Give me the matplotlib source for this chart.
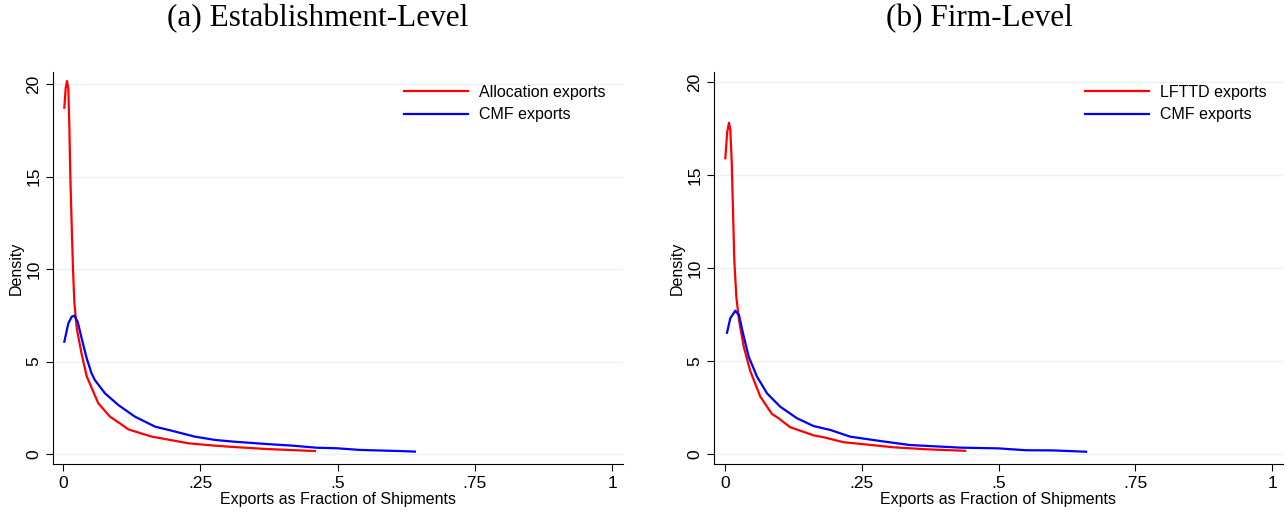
import matplotlib.pyplot as plt

# panel (a) establishment-level
est_alloc_x = [0.0024, 0.0050, 0.0073, 0.0097, 0.0115, 0.0133, 0.0158, 0.0182, 0.0206, 0.025,
               0.034, 0.0432, 0.0643, 0.0856, 0.104, 0.119, 0.1616, 0.186, 0.228, 0.277,
               0.31, 0.371, 0.459]
est_alloc_y = [18.72, 19.8, 20.16, 19.77, 17.8, 15.1, 12.4, 10.04, 8.23, 6.8,
               5.4, 4.2, 2.74, 2.02, 1.65, 1.33, 0.94, 0.81, 0.58, 0.45,
               0.38, 0.27, 0.16]
est_cmf_x = [0.0024, 0.0097, 0.0158, 0.0206, 0.0267, 0.034, 0.0432, 0.052, 0.058, 0.0765,
             0.1007, 0.131, 0.1676, 0.198, 0.24, 0.277, 0.31, 0.371, 0.419, 0.462,
             0.499, 0.541, 0.614, 0.641]
est_cmf_y = [6.07, 7.06, 7.42, 7.48, 7.15, 6.25, 5.17, 4.36, 4.0, 3.28,
             2.65, 2.02, 1.48, 1.26, 0.94, 0.76, 0.67, 0.54, 0.45, 0.34,
             0.31, 0.22, 0.16, 0.13]

# panel (b) firm-level
firm_lfttd_x = [0.0006, 0.0040, 0.0073, 0.0097, 0.0122, 0.0146, 0.017, 0.0207, 0.0256, 0.0342,
                0.0463, 0.0646, 0.0859, 0.098, 0.119, 0.162, 0.18, 0.217, 0.278, 0.307,
                0.369, 0.439]
firm_lfttd_y = [15.9, 17.3, 17.81, 17.42, 15.8, 13.12, 10.43, 8.46, 7.2, 5.77,
                4.45, 3.08, 2.15, 1.92, 1.44, 1.0, 0.9, 0.63, 0.45, 0.36,
                0.25, 0.17]
firm_cmf_x = [0.0037, 0.0097, 0.0188, 0.0256, 0.0329, 0.0433, 0.0585, 0.0768, 0.101, 0.1316,
              0.162, 0.1925, 0.229, 0.278, 0.338, 0.43, 0.5, 0.55, 0.6, 0.66]
firm_cmf_y = [6.52, 7.3, 7.7, 7.47, 6.49, 5.23, 4.16, 3.26, 2.54, 1.92,
              1.5, 1.29, 0.93, 0.72, 0.48, 0.34, 0.3, 0.2, 0.19, 0.12]

xticks = [0, 0.25, 0.5, 0.75, 1]
xtick_labels = ['0', '.25', '.5', '.75', '1']
yticks = [0, 5, 10, 15, 20]

plt.rcParams['font.family'] = ['Liberation Sans', 'DejaVu Sans']

fig = plt.figure(figsize=(12.88, 5.12), dpi=100)

panels = [
    dict(rect=[53/1288, 48/512, 570/1288, 392/512], xlim=(-0.0182, 1.02), ylim=(-0.54, 20.65),
         red=(est_alloc_x, est_alloc_y, 'Allocation exports'), blue=(est_cmf_x, est_cmf_y),
         leg_x=0.616, title='(a) Establishment-Level', title_x=318/1288),
    dict(rect=[714/1288, 48/512, 569/1288, 392/512], xlim=(-0.0201, 1.02), ylim=(-0.54, 20.54),
         red=(firm_lfttd_x, firm_lfttd_y, 'LFTTD exports'), blue=(firm_cmf_x, firm_cmf_y),
         leg_x=0.652, title='(b) Firm-Level', title_x=979/1288),
]

for p in panels:
    ax = fig.add_axes(p['rect'])
    ax.plot(p['red'][0], p['red'][1], color='#ff0000', lw=1.6, label=p['red'][2],
            solid_joinstyle='round')
    ax.plot(p['blue'][0], p['blue'][1], color='#0000ff', lw=1.6, label='CMF exports',
            solid_joinstyle='round')
    ax.set_xlim(*p['xlim'])
    ax.set_ylim(*p['ylim'])
    ax.set_xticks(xticks)
    ax.set_xticklabels(xtick_labels)
    ax.set_yticks(yticks)
    for lab in ax.get_yticklabels():
        lab.set_rotation(90)
        lab.set_va('center')
    ax.tick_params(labelsize=12.5, length=5, width=0.8, color='black')
    ax.grid(axis='y', color='#eaf2f3', lw=1)
    ax.set_axisbelow(True)
    for s in ['top', 'right']:
        ax.spines[s].set_visible(False)
    for s in ['left', 'bottom']:
        ax.spines[s].set_linewidth(0.8)
    ax.set_xlabel('Exports as Fraction of Shipments', fontsize=11.5, labelpad=1)
    ax.set_ylabel('Density', fontsize=11.5, labelpad=2)
    ax.legend(loc='upper left', bbox_to_anchor=(p['leg_x'], 0.967), frameon=False,
              fontsize=11.5, handlelength=4, handletextpad=0.7, borderpad=0,
              borderaxespad=0, labelspacing=0.45)
    fig.text(p['title_x'], 1 - 19/512, p['title'], ha='center', va='center',
             fontsize=22.5, family='Liberation Serif')

fig.savefig('out.png', dpi=100)
